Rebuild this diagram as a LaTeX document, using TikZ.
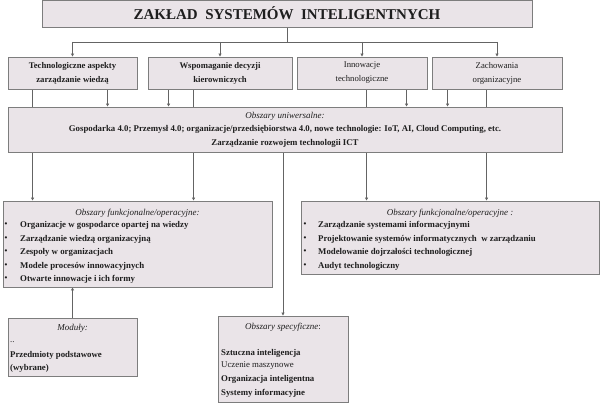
\documentclass[tikz,border=0pt]{standalone}
\usepackage{fontspec}
\setmainfont{Liberation Serif}
\usetikzlibrary{arrows.meta}
\pgfdeclarelayer{bg}
\pgfsetlayers{bg,main}
\definecolor{boxfill}{RGB}{234,228,232}
\definecolor{boxline}{RGB}{125,125,125}
\definecolor{conn}{RGB}{100,100,100}
\definecolor{txt}{RGB}{30,30,30}
\begin{document}
\begin{tikzpicture}[x=1pt,y=-1pt,
  box/.style={draw=boxline, fill=boxfill, line width=0.9pt, inner sep=0pt, text=txt},
  head/.style={box, minimum height=32pt, align=center, font=\fontsize{8.7}{14}\selectfont\bfseries},
  headlight/.style={box, minimum height=32pt, align=center, font=\fontsize{8.7}{14}\selectfont},
  lne/.style={draw=conn, line width=0.8pt},
  arr/.style={lne, -{Triangle[length=3pt,width=3pt]}},
  it/.style={inner sep=0pt, text=txt, anchor=west, font=\fontsize{8.8}{10}\selectfont\bfseries},
  itl/.style={it, font=\fontsize{8.8}{10}\selectfont},
  bul/.style={inner sep=0pt, text=txt, font=\fontsize{8}{10}\selectfont\bfseries},
  ttl/.style={inner sep=0pt, text=txt, font=\fontsize{9}{10}\selectfont\itshape}
]
\useasboundingbox (0,0) rectangle (600,403);

% title
\node[box, minimum width=490pt, minimum height=27pt, font=\fontsize{15}{18}\selectfont\bfseries] (title) at (287,13.5) {ZAKŁAD\ \ SYSTEMÓW\ \ INTELIGENTNYCH};

% row 2
\node[head, minimum width=129pt] (b1) at (72.5,73) {Technologiczne aspekty\\zarządzanie wiedzą};
\node[head, minimum width=144pt] (b2) at (220,73) {Wspomaganie decyzji\\kierowniczych};
\node[headlight, minimum width=130pt] (b3) at (362,73) {Innowacje\\technologiczne};
\node[headlight, minimum width=130pt] (b4) at (497,73) {Zachowania\\organizacyjne};

% universal
\node[box, minimum width=554pt, minimum height=45pt, align=center, font=\fontsize{8.8}{13.5}\selectfont\bfseries] (uni) at (285,129.5)
  {{\fontsize{9}{13.5}\selectfont\itshape\mdseries Obszary uniwersalne:}\\Gospodarka 4.0; Przemysł 4.0; organizacje/przedsiębiorstwa 4.0, nowe technologie: IoT, AI, Cloud Computing, etc.\\Zarządzanie rozwojem technologii ICT};

% functional boxes
\node[box, minimum width=269pt, minimum height=86pt] (fl) at (137.5,244) {};
\node[box, minimum width=298pt, minimum height=73pt] (fr) at (450,237.5) {};

% modules & specific
\node[box, minimum width=129pt, minimum height=58pt] (mod) at (72.5,347) {};
\node[box, minimum width=130pt, minimum height=86pt] (spec) at (283,359) {};

% texts left functional
\node[ttl] (flt) at (137.5,213) {Obszary funkcjonalne/operacyjne:};
\foreach \y/\s [count=\i] in {225/Organizacje w gospodarce opartej na wiedzy, 239/Zarządzanie wiedzą organizacyjną, 252/Zespoły w organizacjach, 266/Modele procesów innowacyjnych, 279/Otwarte innowacje i ich formy}{
  \node[bul] (flb\i) at (6,\y) {•};
  \node[it] (fli\i) at (20,\y) {\s};
}
% texts right functional
\node[ttl] (frt) at (450,213) {Obszary funkcjonalne/operacyjne :};
\foreach \y/\s [count=\i] in {225/Zarządzanie systemami informacyjnymi, 239/Projektowanie systemów informatycznych\ \ w zarządzaniu, 252/Modelowanie dojrzałości technologicznej, 266/Audyt technologiczny}{
  \node[bul] (frb\i) at (305,\y) {•};
  \node[it] (fri\i) at (318,\y) {\s};
}
% modules text
\node[ttl] (modt) at (72.5,328) {Moduły:};
\node[itl] (mod0) at (10,342) {..};
\node[it] (mod1) at (10,355) {Przedmioty podstawowe};
\node[it] (mod2) at (10,368) {(wybrane)};
% specific text
\node[ttl] (spect) at (283,327) {Obszary specyficzne\upshape:};
\node[it] (sp1) at (221,353) {Sztuczna inteligencja};
\node[itl] (sp2) at (221,366) {Uczenie maszynowe};
\node[it] (sp3) at (221,379) {Organizacja inteligentna};
\node[it] (sp4) at (221,393) {Systemy informacyjne};

% connectors
\begin{pgfonlayer}{bg}
\fill[white] (0,0) rectangle (600,403);
\coordinate (bus1) at (b1.north |- 0,42);
\coordinate (bus4) at (b4.north |- 0,42);
\draw[lne] (title.south) -- (title.south |- bus1);
\draw[lne] (bus1) -- (bus4);
\foreach \b in {b1,b2,b3,b4} \draw[arr] (\b.north |- bus1) -- (\b.north);
% from row 2 to universal
\draw[arr] ([xshift=100pt]b1.south west) -- ([xshift=100pt]b1.south west |- uni.north);
\draw[arr] ([xshift=21pt]b2.south west) -- ([xshift=21pt]b2.south west |- uni.north);
\draw[arr] ([xshift=110pt]b3.south west) -- ([xshift=110pt]b3.south west |- uni.north);
\draw[arr] ([xshift=16pt]b4.south west) -- ([xshift=16pt]b4.south west |- uni.north);
% from row 2 through universal to functional
\draw[arr] ([xshift=25pt]b1.south west) -- ([xshift=25pt]b1.south west |- fl.north);
\draw[arr] ([xshift=46pt]b2.south west) -- ([xshift=46pt]b2.south west |- fl.north);
\draw[arr] ([xshift=70pt]b3.south west) -- ([xshift=70pt]b3.south west |- fr.north);
\draw[arr] ([xshift=55pt]b4.south west) -- ([xshift=55pt]b4.south west |- fr.north);
% universal to specific
\draw[arr] (spec.north |- uni.south) -- (spec.north);
% modules up to functional
\draw[arr] (mod.north) -- (mod.north |- fl.south);
\end{pgfonlayer}
\end{tikzpicture}
\end{document}
